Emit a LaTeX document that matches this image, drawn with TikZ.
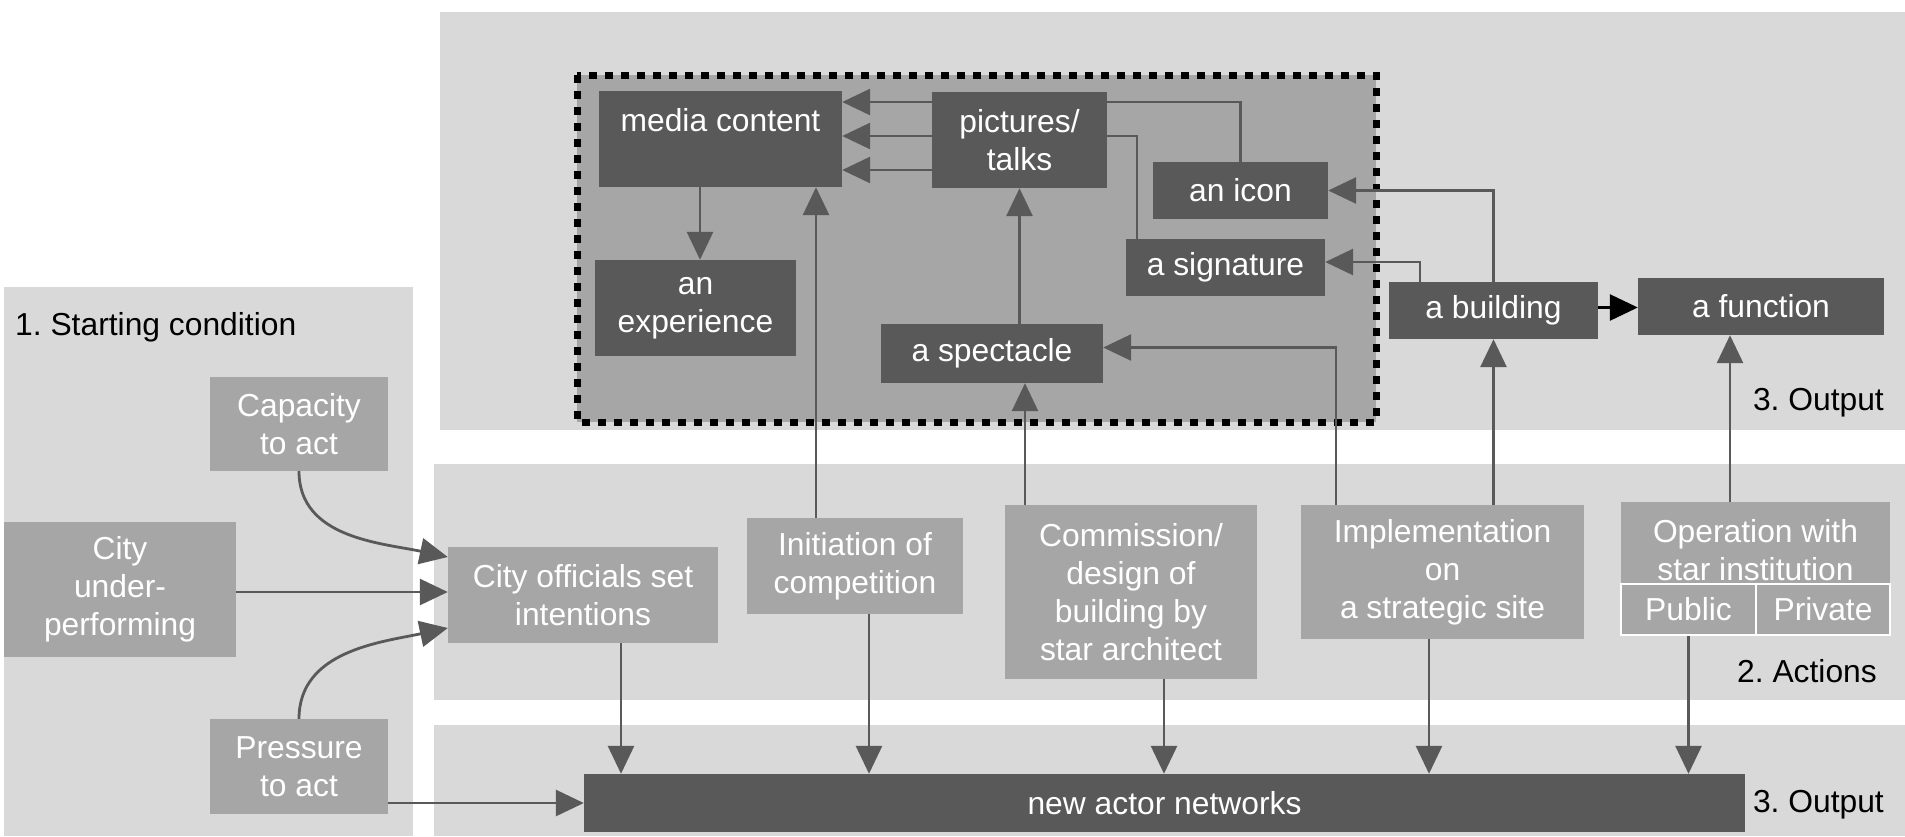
\documentclass[tikz,border=0pt]{standalone}
\usepackage{fontspec}
\setmainfont{Liberation Sans}
\usetikzlibrary{arrows.meta}
\definecolor{cPanel}{HTML}{D9D9D9}
\definecolor{cMid}{HTML}{A6A6A6}
\definecolor{cDark}{HTML}{595959}
\tikzset{
  box/.style={rectangle, inner sep=0pt, align=center, text=white,
    font=\fontsize{31.8}{38}\selectfont},
  dbox/.style={box, fill=cDark},
  mbox/.style={box, fill=cMid},
  cell/.style={box, fill=cMid, draw=white, line width=1.5pt},
  lbl/.style={inner sep=0pt, font=\fontsize{31.8}{38}\selectfont\frenchspacing},
  ln/.style={draw=cDark, line width=2.8pt},
  arr/.style={ln, -{Triangle[length=28pt,width=26pt]}},
}
\begin{document}
\begin{tikzpicture}[x=1pt,y=1pt]
  \useasboundingbox (0,0) rectangle (1905,-836);
  \fill[cPanel] (4,-287) rectangle (413,-836);
  \fill[cPanel] (440,-12) rectangle (1905,-430);
  \fill[cPanel] (434,-464) rectangle (1905,-700);
  \fill[cPanel] (434,-725) rectangle (1905,-836);
  \draw[fill=cMid, line width=7pt, dash pattern=on 8pt off 8pt] (577,-75) rectangle (1376,-422);

  \node[dbox, minimum width=243pt, minimum height=96pt] (media) at (720.5,-139) {media content\\\phantom{m}};
  \node[dbox, minimum width=201pt, minimum height=96pt] (exper) at (695.5,-308) {an\\experience};
  \node[dbox, minimum width=175pt, minimum height=96pt] (pict) at (1019.5,-140) {pictures/\\talks};
  \node[dbox, minimum width=175pt, minimum height=57pt] (icon) at (1240.5,-190.5) {an icon};
  \node[dbox, minimum width=199pt, minimum height=57pt] (sign) at (1225.5,-267.5) {a signature};
  \node[dbox, minimum width=222pt, minimum height=59pt] (spect) at (992,-353.5) {a spectacle};
  \node[dbox, minimum width=209pt, minimum height=57pt] (build) at (1493.5,-310.5) {a building};
  \node[dbox, minimum width=246pt, minimum height=57pt] (func) at (1761,-306.5) {a function};
  \node[lbl, anchor=east] (outa) at (1884,-403) {3. Output};

  \node[mbox, minimum width=270pt, minimum height=96pt] (offic) at (583,-595) {City officials set\\intentions};
  \node[mbox, minimum width=216pt, minimum height=96pt] (init) at (855,-566) {Initiation of\\competition};
  \node[mbox, minimum width=252pt, minimum height=174pt] (comm) at (1131,-592) {Commission/\\design of\\building by\\star architect};
  \node[mbox, minimum width=283pt, minimum height=134pt] (impl) at (1442.5,-572) {Implementation\\on\\a strategic site};
  \node[mbox, minimum width=269pt, minimum height=96pt] (oper) at (1755.5,-550) {Operation with\\star institution};
  \node[cell, minimum width=135pt, minimum height=51pt] (publ) at (1688.5,-609.5) {Public};
  \node[cell, minimum width=134pt, minimum height=51pt] (priv) at (1823,-609.5) {Private};
  \node[lbl, anchor=east] (actn) at (1877,-671) {2. Actions};

  \node[dbox, minimum width=1161pt, minimum height=58pt] (netw) at (1164.5,-803) {new actor networks};
  \node[lbl, anchor=east] (outb) at (1884,-805) {3. Output};

  \node[lbl, anchor=west] (start) at (15,-327) {1. Starting condition};
  \node[mbox, minimum width=178pt, minimum height=94pt] (capac) at (299,-424) {Capacity\\to act};
  \node[mbox, minimum width=232pt, minimum height=135pt] (city) at (120,-589.5) {City\\under-\\performing};
  \node[mbox, minimum width=178pt, minimum height=95pt] (press) at (299,-766.5) {Pressure\\to act};

  \begin{scope}[arr]
    \draw (capac.south) to[out=-90, in=168] ([yshift=38pt]offic.west);
    \draw (city.east |- 0,-592) -- (offic.west |- 0,-592);
    \draw (press.north) to[out=90, in=192] ([yshift=-33pt]offic.west);
    \draw (press.east |- netw.west) -- (netw.west);
    \draw ([xshift=38pt]offic.south) -- ([xshift=38pt]offic.south |- netw.north);
    \draw ([xshift=14pt]init.south) -- ([xshift=14pt]init.south |- netw.north);
    \draw ([xshift=-39pt]init.north) -- ([xshift=-39pt]init.north |- media.south);
    \draw ([xshift=33pt]comm.south) -- ([xshift=33pt]comm.south |- netw.north);
    \draw ([xshift=-106pt]comm.north) -- ([xshift=-106pt]comm.north |- spect.south);
    \draw (pict.south |- spect.north) -- (pict.south);
    \draw ([xshift=-106.5pt]impl.north) |- ([yshift=6pt]spect.east);
    \draw (build.south |- impl.north) -- (build.south);
    \draw ([xshift=-13.5pt]impl.south) -- ([xshift=-13.5pt]impl.south |- netw.north);
    \draw ([xshift=-31pt]func.south |- oper.north) -- ([xshift=-31pt]func.south);
    \draw (publ.south) -- (publ.south |- netw.north);
    \draw[draw=black] ([yshift=3pt]build.east) -- ([yshift=3pt]build.east -| func.west);
    \draw (build.north) |- (icon.east);
    \draw ([xshift=-73.5pt]build.north) |- ([yshift=5.5pt]sign.east);
    \draw ([yshift=38pt]pict.west) -- ([yshift=38pt]pict.west -| media.east);
    \draw ([yshift=4pt]pict.west) -- ([yshift=4pt]pict.west -| media.east);
    \draw ([yshift=-30pt]pict.west) -- ([yshift=-30pt]pict.west -| media.east);
    \draw ([xshift=-20.5pt]media.south) -- ([xshift=-20.5pt]media.south |- exper.north);
  \end{scope}
  \draw[ln] (icon.north) |- ([yshift=38pt]pict.east);
  \draw[ln] ([xshift=-88.5pt]sign.north) |- ([yshift=4pt]pict.east);
\end{tikzpicture}
\end{document}
